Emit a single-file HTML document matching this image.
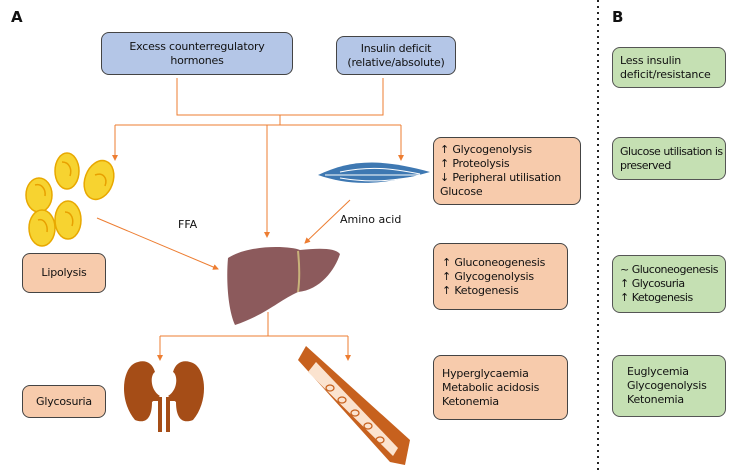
<!DOCTYPE html>
<html><head><style>
body{margin:0;width:744px;height:470px;background:#fff;position:relative;font-family:"DejaVu Sans","Liberation Sans",sans-serif;overflow:hidden}
.b{position:absolute;box-sizing:border-box;border:1.5px solid #444;border-radius:8px;font-size:11px;color:#111;display:flex;align-items:center;line-height:14px;white-space:nowrap;letter-spacing:-0.2px}
.blue{background:#b4c6e7;justify-content:center;text-align:center}
.org{background:#f7cbac}
.grn{background:#c5e0b3;border-color:#555}
.t{position:absolute;font-size:11px;color:#111}
</style></head><body>
<div class="t" style="left:11px;top:8px;font-weight:bold;font-size:15px">A</div>
<div class="t" style="left:612px;top:8px;font-weight:bold;font-size:15px">B</div>
<div class="b blue" style="left:101px;top:32px;width:192px;height:43px">Excess counterregulatory<br>hormones</div>
<div class="b blue" style="left:336px;top:36px;width:120px;height:39px">Insulin deficit<br>(relative/absolute)</div>
<svg width="744" height="470" style="position:absolute;left:0;top:0">
<defs><marker id="a" markerWidth="6" markerHeight="6" refX="5" refY="3" orient="auto"><path d="M0,0L6,3L0,6z" fill="#ed7d31"/></marker></defs>
<g stroke="#ed7d31" stroke-width="1" fill="none">
<path d="M177,78V115H383V78M280,115V125M115,125H401"/>
<path d="M115,125V160" marker-end="url(#a)"/>
<path d="M267,125V237" marker-end="url(#a)"/>
<path d="M401,125V160" marker-end="url(#a)"/>
<path d="M97,218L218,269" marker-end="url(#a)"/>
<path d="M350,200L305,243" marker-end="url(#a)"/>
<path d="M268,312V336M160,336H348"/>
<path d="M160,336V360" marker-end="url(#a)"/>
<path d="M348,336V360" marker-end="url(#a)"/>
</g>
<line x1="598" y1="0" x2="598" y2="470" stroke="#222" stroke-width="2" stroke-dasharray="2,4"/>
<g fill="#f7d330" stroke="#e8a800" stroke-width="1.5">
<ellipse cx="39" cy="195" rx="13" ry="17"/><ellipse cx="67" cy="171" rx="12" ry="18"/>
<ellipse cx="99" cy="180" rx="14" ry="20" transform="rotate(20 99 180)"/>
<ellipse cx="42" cy="228" rx="13" ry="18"/><ellipse cx="68" cy="220" rx="13" ry="19"/>
</g>
<g fill="none" stroke="#e8a000" stroke-width="1.5">
<path d="M35,185C42,183 46,190 45,196M62,162C70,162 72,170 70,176M95,175C103,172 108,178 105,186M38,220C44,218 48,225 47,232M65,212C72,212 74,220 72,226"/>
</g>
<path d="M318,175C350,160 380,158 430,172C380,186 350,186 318,175z" fill="#3e78b2"/>
<path d="M325,175H430M340,172C370,166 390,168 420,174M340,178C370,183 390,181 420,176" stroke="#fff" stroke-width="1" fill="none"/>
<path d="M228,258C250,244 290,246 300,250C320,248 335,248 340,254C335,270 320,290 298,292C280,300 265,315 235,325C228,310 226,280 228,258z" fill="#8c5a5c"/>
<path d="M298,251C300,270 299,285 298,292" stroke="#c8b27a" stroke-width="2" fill="none"/>
<path d="M138,362C122,365 118,400 135,420C148,425 152,415 152,402L160,396C150,390 150,375 155,372C152,362 145,360 138,362z" fill="#a54d17"/>
<path d="M190,362C206,365 210,400 193,420C180,425 176,415 176,402L168,396C178,390 178,375 173,372C176,362 183,360 190,362z" fill="#a54d17"/>
<path d="M152,399H160V432M176,399H168V432" stroke="#a54d17" stroke-width="4" fill="none"/>
<path d="M298,360L306,346L410,440L405,465L390,462Z" fill="#c7611e"/>
<path d="M308,372L316,362L398,448L393,456Z" fill="#fbe3cf"/>
<g fill="none" stroke="#c7611e" stroke-width="1.3">
<ellipse cx="330" cy="388" rx="4" ry="3"/><ellipse cx="342" cy="400" rx="4" ry="3"/><ellipse cx="355" cy="413" rx="4" ry="3"/><ellipse cx="368" cy="426" rx="4" ry="3"/><ellipse cx="380" cy="440" rx="4" ry="3"/>
</g>
</svg>
<div class="t" style="left:178px;top:218px">FFA</div>
<div class="t" style="left:340px;top:213px">Amino acid</div>
<div class="b org" style="left:433px;top:137px;width:148px;height:68px;padding-left:6px">↑ Glycogenolysis<br>↑ Proteolysis<br>↓ Peripheral utilisation<br>Glucose</div>
<div class="b org" style="left:433px;top:243px;width:135px;height:67px;padding-left:8px">↑ Gluconeogenesis<br>↑ Glycogenolysis<br>↑ Ketogenesis</div>
<div class="b org" style="left:433px;top:355px;width:135px;height:65px;padding-left:8px">Hyperglycaemia<br>Metabolic acidosis<br>Ketonemia</div>
<div class="b org" style="left:22px;top:253px;width:84px;height:40px;justify-content:center">Lipolysis</div>
<div class="b org" style="left:22px;top:385px;width:84px;height:33px;justify-content:center">Glycosuria</div>
<div class="b grn" style="left:612px;top:47px;width:114px;height:41px;padding-left:7px">Less insulin<br>deficit/resistance</div>
<div class="b grn" style="left:612px;top:137px;width:114px;height:43px;padding-left:7px;letter-spacing:-0.5px">Glucose utilisation is<br>preserved</div>
<div class="b grn" style="left:612px;top:255px;width:114px;height:58px;padding-left:7px;letter-spacing:-0.5px">~ Gluconeogenesis<br>↑ Glycosuria<br>↑ Ketogenesis</div>
<div class="b grn" style="left:612px;top:355px;width:114px;height:62px;padding-left:14px">Euglycemia<br>Glycogenolysis<br>Ketonemia</div>
</body></html>
